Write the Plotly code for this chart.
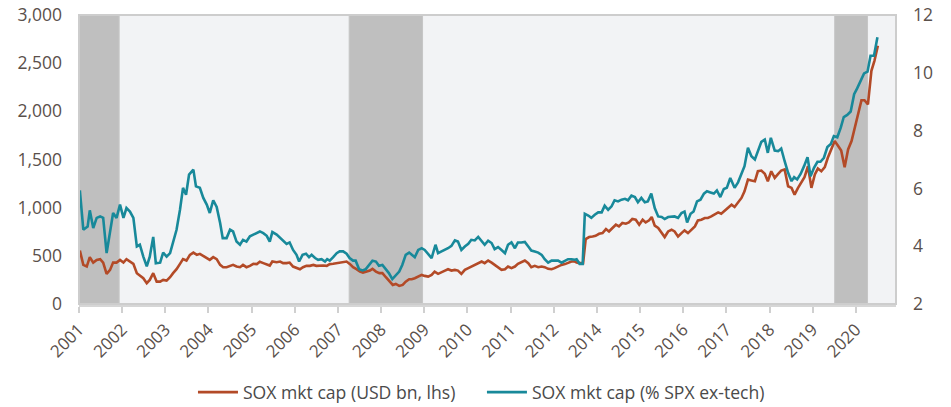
import plotly.graph_objects as go

# ---- data (x = position on the year axis) ----
usd_x = [2001.02, 2001.10, 2001.18, 2001.25, 2001.33, 2001.41, 2001.49, 2001.56, 2001.64, 2001.72, 2001.79, 2001.87, 2001.95,
         2002.03, 2002.10, 2002.18, 2002.26, 2002.34, 2002.41, 2002.49, 2002.57, 2002.64, 2002.72, 2002.80, 2002.88, 2002.95,
         2003.03, 2003.11, 2003.18, 2003.26, 2003.34, 2003.41, 2003.49, 2003.57, 2003.65, 2003.73, 2003.80, 2003.88, 2003.96,
         2004.03, 2004.11, 2004.19, 2004.27, 2004.34, 2004.42, 2004.50, 2004.57, 2004.65, 2004.73, 2004.80, 2004.88, 2004.96,
         2005.04, 2005.12, 2005.19, 2005.27, 2005.35, 2005.42, 2005.48, 2005.58, 2005.66, 2005.73, 2005.81, 2005.88, 2005.96,
         2006.04, 2006.12, 2006.19, 2006.27, 2006.35, 2006.43, 2006.50, 2006.58, 2006.66, 2006.74, 2006.81, 2006.89, 2006.97,
         2007.04, 2007.12, 2007.20, 2007.28, 2007.35, 2007.43, 2007.51, 2007.58, 2007.66, 2007.74, 2007.80, 2007.88, 2007.96,
         2008.03, 2008.11, 2008.19, 2008.27, 2008.34, 2008.42, 2008.50, 2008.57, 2008.65, 2008.71, 2008.78, 2008.86, 2008.94,
         2009.01, 2009.09, 2009.17, 2009.24, 2009.32, 2009.40, 2009.48, 2009.55, 2009.63, 2009.71, 2009.78, 2009.86, 2009.94,
         2010.02, 2010.09, 2010.17, 2010.25, 2010.33, 2010.40, 2010.48, 2010.56, 2010.63, 2010.71, 2010.79, 2010.87, 2010.94,
         2011.02, 2011.10, 2011.17, 2011.25, 2011.33, 2011.41, 2011.48, 2011.56, 2011.64, 2011.72, 2011.79, 2011.87, 2011.95,
         2012.02, 2012.10, 2012.18, 2012.26, 2012.33, 2012.41, 2012.49, 2012.53, 2012.60, 2012.68, 2012.74, 2012.82, 2012.90, 2012.97,
         2013.05, 2013.13, 2013.21, 2013.28, 2013.36, 2013.44, 2013.51, 2013.59, 2013.67, 2013.74, 2013.82, 2013.90, 2013.98,
         2014.06, 2014.13, 2014.21, 2014.27, 2014.34, 2014.42, 2014.50, 2014.57, 2014.65, 2014.73, 2014.80, 2014.88, 2014.96,
         2015.03, 2015.11, 2015.19, 2015.27, 2015.34, 2015.42, 2015.50, 2015.57, 2015.65, 2015.73, 2015.81, 2015.88, 2015.96,
         2016.04, 2016.12, 2016.19, 2016.27, 2016.35, 2016.42, 2016.50, 2016.58, 2016.66, 2016.73, 2016.81, 2016.89, 2016.96,
         2017.04, 2017.12, 2017.20, 2017.27, 2017.35, 2017.43, 2017.51, 2017.58, 2017.66, 2017.74, 2017.81, 2017.89, 2017.97,
         2018.05, 2018.12, 2018.20, 2018.28, 2018.35, 2018.43, 2018.51, 2018.59, 2018.66, 2018.74, 2018.82, 2018.90, 2018.97,
         2019.05, 2019.13, 2019.20, 2019.28, 2019.36, 2019.43, 2019.51]
usd_bn = [555, 406, 389, 486, 430, 458, 466, 430, 313, 354, 430, 430, 458,
          430, 466, 441, 417, 320, 292, 268, 216, 250, 320, 232, 232, 250,
          243, 278, 320, 361, 417, 466, 451, 510, 534, 510, 521, 500, 476,
          458, 486, 466, 406, 382, 382, 396, 406, 389, 382, 406, 382, 396,
          417, 414, 438, 424, 414, 399, 441, 434, 441, 424, 424, 430, 389,
          372, 361, 382, 396, 396, 406, 396, 399, 399, 396, 414, 417, 424,
          424, 434, 441, 414, 382, 361, 336, 326, 336, 347, 365, 336, 320,
          320, 278, 243, 198, 208, 188, 198, 232, 257, 257, 268, 284, 302,
          292, 284, 302, 336, 313, 326, 347, 361, 347, 354, 347, 313, 354,
          372, 389, 406, 424, 441, 424, 451, 430, 406, 382, 354, 361, 389,
          372, 389, 417, 430, 451, 424, 382, 396, 382, 389, 382, 365, 361,
          372, 389, 406, 414, 424, 441, 441, 430, 424, 424, 674, 695, 701, 708,
          729, 736, 778, 753, 789, 823, 805, 841, 833, 847, 882, 875, 823,
          875, 847, 868, 903, 813, 789, 743, 695, 753, 771, 753, 701, 736,
          764, 736, 771, 805, 868, 875, 893, 893, 909, 927, 951, 938, 972,
          1007, 1031, 1007, 1049, 1101, 1170, 1292, 1281, 1274, 1378, 1385, 1351, 1274,
          1378, 1309, 1351, 1385, 1396, 1222, 1205, 1135, 1205, 1257, 1316, 1430, 1205,
          1344, 1406, 1378, 1420, 1518, 1604, 1691, 1639, 1594, 1420, 1604, 1691, 1830,
          1969, 2115, 2115, 2073, 2420, 2524, 2680]

pct_x = [2001.02, 2001.10, 2001.20, 2001.25, 2001.33, 2001.41, 2001.49, 2001.56, 2001.64, 2001.72, 2001.79, 2001.87, 2001.95,
         2002.03, 2002.10, 2002.18, 2002.26, 2002.34, 2002.41, 2002.49, 2002.57, 2002.64, 2002.72, 2002.78, 2002.88, 2002.95,
         2003.03, 2003.11, 2003.18, 2003.26, 2003.34, 2003.41, 2003.48, 2003.55, 2003.65, 2003.71, 2003.80, 2003.88, 2003.96,
         2004.03, 2004.11, 2004.19, 2004.27, 2004.33, 2004.42, 2004.50, 2004.57, 2004.65, 2004.73, 2004.80, 2004.88, 2004.96,
         2005.04, 2005.12, 2005.19, 2005.27, 2005.35, 2005.42, 2005.48, 2005.58, 2005.66, 2005.73, 2005.81, 2005.88, 2005.96,
         2006.04, 2006.10, 2006.18, 2006.26, 2006.33, 2006.39, 2006.47, 2006.54, 2006.62, 2006.70, 2006.75, 2006.81, 2006.89, 2006.97,
         2007.04, 2007.12, 2007.20, 2007.27, 2007.35, 2007.41, 2007.49, 2007.57, 2007.64, 2007.72, 2007.80, 2007.88, 2007.95,
         2008.03, 2008.11, 2008.18, 2008.26, 2008.34, 2008.42, 2008.49, 2008.57, 2008.65, 2008.71, 2008.78, 2008.86, 2008.94,
         2009.01, 2009.09, 2009.17, 2009.26, 2009.32, 2009.40, 2009.48, 2009.55, 2009.63, 2009.71, 2009.78, 2009.86, 2009.94,
         2010.02, 2010.09, 2010.17, 2010.25, 2010.33, 2010.40, 2010.48, 2010.56, 2010.63, 2010.71, 2010.79, 2010.87, 2010.94,
         2011.02, 2011.10, 2011.17, 2011.25, 2011.33, 2011.41, 2011.48, 2011.56, 2011.64, 2011.72, 2011.79, 2011.87, 2011.95,
         2012.02, 2012.10, 2012.18, 2012.26, 2012.33, 2012.41, 2012.49, 2012.53, 2012.60, 2012.67, 2012.72, 2012.80, 2012.87, 2012.95,
         2013.03, 2013.11, 2013.18, 2013.26, 2013.34, 2013.41, 2013.49, 2013.57, 2013.65, 2013.72, 2013.80, 2013.88, 2013.95,
         2014.03, 2014.11, 2014.18, 2014.26, 2014.34, 2014.42, 2014.50, 2014.57, 2014.65, 2014.73, 2014.80, 2014.88, 2014.96,
         2015.03, 2015.09, 2015.17, 2015.24, 2015.32, 2015.40, 2015.48, 2015.55, 2015.63, 2015.71, 2015.78, 2015.86, 2015.94,
         2016.01, 2016.09, 2016.19, 2016.27, 2016.35, 2016.42, 2016.50, 2016.58, 2016.66, 2016.73, 2016.81, 2016.89, 2016.96,
         2017.03, 2017.12, 2017.20, 2017.27, 2017.35, 2017.43, 2017.51, 2017.57, 2017.64, 2017.72, 2017.80, 2017.88, 2017.95,
         2018.03, 2018.11, 2018.18, 2018.26, 2018.34, 2018.42, 2018.49, 2018.57, 2018.65, 2018.72, 2018.80, 2018.88, 2018.96,
         2019.03, 2019.11, 2019.19, 2019.27, 2019.34, 2019.42, 2019.50]
pct_spx = [5.93, 4.57, 4.68, 5.24, 4.63, 4.98, 5.03, 4.98, 3.76, 4.45, 5.15, 4.98, 5.44,
           4.98, 5.32, 5.20, 4.98, 3.99, 4.05, 3.64, 3.30, 3.64, 4.32, 3.41, 3.43, 3.78,
           3.64, 3.76, 4.11, 4.57, 5.26, 6.02, 5.78, 6.48, 6.65, 6.07, 6.02, 5.67, 5.44,
           5.15, 5.59, 5.36, 4.80, 4.28, 4.28, 4.57, 4.51, 4.16, 4.05, 4.22, 4.16, 4.34,
           4.40, 4.45, 4.51, 4.45, 4.36, 4.16, 4.49, 4.40, 4.28, 4.20, 4.08, 4.13, 3.87,
           3.70, 3.47, 3.70, 3.74, 3.62, 3.70, 3.59, 3.53, 3.55, 3.47, 3.55, 3.50, 3.62, 3.76,
           3.82, 3.82, 3.74, 3.59, 3.50, 3.50, 3.20, 3.16, 3.20, 3.35, 3.50, 3.47, 3.32,
           3.35, 3.20, 3.07, 2.86, 3.01, 3.12, 3.35, 3.70, 3.78, 3.70, 3.62, 3.87, 3.93,
           3.87, 3.74, 3.59, 4.05, 3.76, 3.82, 3.87, 3.93, 4.01, 4.20, 4.16, 3.87, 3.99,
           4.08, 4.22, 4.20, 4.32, 4.16, 4.05, 4.19, 4.11, 3.90, 3.97, 3.87, 3.76, 4.05,
           4.13, 3.93, 4.13, 4.13, 4.15, 3.99, 3.85, 3.82, 3.78, 3.70, 3.55, 3.43, 3.50,
           3.50, 3.50, 3.43, 3.50, 3.55, 3.55, 3.53, 3.55, 3.39, 3.39, 5.12, 5.06, 4.98, 5.09,
           5.17, 5.17, 5.40, 5.26, 5.38, 5.59, 5.55, 5.61, 5.64, 5.59, 5.75, 5.70, 5.52,
           5.67, 5.52, 5.55, 5.82, 5.32, 5.03, 5.01, 4.94, 5.01, 5.03, 5.03, 4.98, 5.15,
           5.20, 4.82, 5.12, 5.20, 5.55, 5.61, 5.82, 5.90, 5.86, 5.82, 5.93, 5.70, 5.98,
           6.02, 6.36, 6.02, 6.21, 6.48, 6.77, 7.41, 7.11, 7.00, 7.29, 7.61, 7.69, 7.23,
           7.75, 7.31, 7.29, 7.38, 6.94, 6.54, 6.25, 6.39, 6.31, 6.50, 6.77, 7.08, 6.42,
           6.71, 6.92, 6.92, 7.06, 7.43, 7.54, 7.81, 7.77, 8.10, 8.47, 8.54, 8.66, 9.26,
           9.46, 9.70, 9.98, 10.04, 10.59, 10.59, 11.23]

shade_start = [2001.0, 2007.26, 2018.51]
shade_end = [2001.93, 2008.96, 2019.27]

tick_pos = list(range(2001, 2020))
tick_labels = ["2001", "2002", "2003", "2004", "2005", "2006", "2007", "2008", "2009", "2010",
               "2011", "2012", "2014", "2015", "2016", "2017", "2018", "2019", "2020"]

ORANGE = "#b34a27"
TEAL = "#18899a"
TXT = "#5a504b"
FONT = "Open Sans"

fig = go.Figure()
fig.add_trace(go.Scatter(x=usd_x, y=usd_bn, mode="lines", name="SOX mkt cap (USD bn, lhs)",
                         line=dict(color=ORANGE, width=2.6), yaxis="y", legend="legend"))
fig.add_trace(go.Scatter(x=pct_x, y=pct_spx, mode="lines", name="SOX mkt cap (% SPX ex-tech)",
                         line=dict(color=TEAL, width=2.6), yaxis="y2", legend="legend2"))

shapes = []
for s, e in zip(shade_start, shade_end):
    shapes.append(dict(type="rect", xref="x", yref="paper", x0=s, x1=e, y0=0, y1=1,
                       fillcolor="#bfbfbf", line=dict(width=1, color="#c6c6c6"), layer="below"))
shapes.append(dict(type="rect", xref="paper", yref="paper", x0=0, x1=1, y0=0, y1=1,
                   line=dict(color="#cdcdcd", width=2), fillcolor="rgba(0,0,0,0)", layer="above"))

legend_style = dict(orientation="h", xanchor="left", y=-0.305, yanchor="middle",
                    font=dict(size=17.6, color="#4a4a4a"), bgcolor="rgba(0,0,0,0)", itemwidth=40)

fig.update_layout(
    width=951, height=407,
    margin=dict(l=79, r=55, t=15, b=103, autoexpand=False),
    paper_bgcolor="white", plot_bgcolor="#f2f3f5",
    font=dict(family=FONT, color=TXT, size=17),
    shapes=shapes,
    showlegend=True,
    legend=dict(x=0.1395, **legend_style),
    legend2=dict(x=0.4932, **legend_style),
    xaxis=dict(range=[2001.0, 2019.93], tickvals=tick_pos, ticktext=tick_labels, tickangle=-45,
               showgrid=False, zeroline=False, ticks="outside", ticklen=6, tickwidth=2,
               tickcolor="#d0d0d0", showline=True, linecolor="#d6d6d6", linewidth=3,
               tickfont=dict(size=17, color=TXT), automargin=False),
    yaxis=dict(range=[0, 3000], dtick=500, tickformat=",", showgrid=False, zeroline=False,
               showline=False, ticks="", tickfont=dict(size=17.5, color=TXT), ticklabelstandoff=16,
               automargin=False),
    yaxis2=dict(range=[2, 12], dtick=2, overlaying="y", side="right", showgrid=False,
                zeroline=False, showline=False, ticks="", tickfont=dict(size=17.5, color=TXT),
                ticklabelstandoff=16, automargin=False),
)

fig.write_html("out.html", config={"displayModeBar": False},
               post_script="document.body.style.margin='0px';document.body.style.overflow='hidden';")
